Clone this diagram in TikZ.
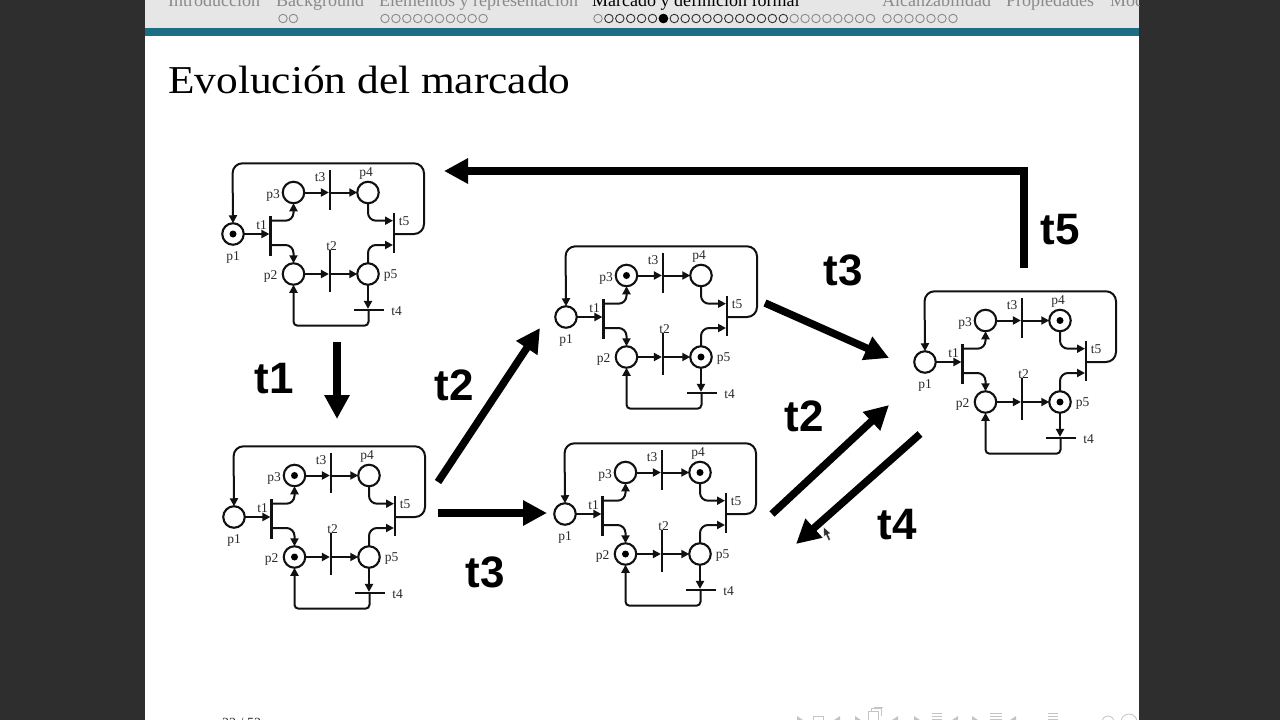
\documentclass[tikz,border=0pt]{standalone}
\usepackage{fontspec}
\setmainfont{Liberation Serif}
\newfontfamily\bigsans{Liberation Sans}[BoldFont={Liberation Sans Bold}]
\usetikzlibrary{arrows.meta,calc}
\definecolor{sidebar}{HTML}{2E2E2E}
\definecolor{headgrey}{HTML}{E6E6E6}
\definecolor{teal2}{HTML}{1D6E85}
\definecolor{navtext}{HTML}{8A8A8A}
\definecolor{navdark}{HTML}{303030}
\definecolor{navsym}{HTML}{C4C4C4}
\definecolor{netink}{HTML}{111111}
\definecolor{lblink}{HTML}{2A2A2A}
\tikzset{
  place/.style={circle,draw=netink,line width=2.1pt,fill=white,minimum size=21.5pt,inner sep=0pt,outer sep=0pt},
  token/.style={circle,fill=black,minimum size=7pt,inner sep=0pt,outer sep=0pt},
  vbar/.style={rectangle,fill=netink,minimum width=2.2pt,inner sep=0pt,outer sep=0pt},
  hbar/.style={rectangle,fill=netink,minimum height=2.2pt,inner sep=0pt,outer sep=0pt},
  pn/.style={draw=netink,line width=2pt,-{Triangle[length=8pt,width=8pt]}},
  lbl/.style={text=lblink,font=\fontsize{13.5}{15}\selectfont,inner sep=0pt},
  bigarrow/.style={draw=black,line width=7.5pt,-{Triangle[length=24pt,width=24pt]}},
  biglabel/.style={text=black,font=\bigsans\bfseries\fontsize{44}{46}\selectfont,inner sep=0pt},
  headtxt/.style={anchor=base west,inner sep=0pt,text=navtext,font=\fontsize{18}{20}\selectfont},
  navdot/.style={circle,draw=navtext,line width=.9pt,minimum size=8.5pt,inner sep=0pt},
  navsymb/.style={draw=navsym,line width=.8pt}
}
% #1 prefix, #2 x, #3 y, #4 marked places
\newcommand{\petrinet}[4]{%
\begin{scope}[shift={(#2,#3)}]
  \node[place] (#1p1) at (0,0) {};
  \node[place] (#1p3) at (60.5,-41.5) {};
  \node[place] (#1p2) at (60.5,40) {};
  \node[place] (#1p4) at (135,-41.5) {};
  \node[place] (#1p5) at (135,40) {};
  \node[vbar,minimum height=40pt] (#1t1) at (37.5,2) {};
  \node[vbar,minimum height=40pt] (#1t3) at (97,-44) {};
  \node[vbar,minimum height=42pt] (#1t2) at (97,37) {};
  \node[vbar,minimum height=40pt] (#1t5) at (161,-1) {};
  \node[hbar,minimum width=30pt] (#1t4) at (135.5,76) {};
  \coordinate (#1a) at (37.5,-13.3);
  \coordinate (#1b) at (37.5,11);
  \coordinate (#1c) at (160,-13.3);
  \coordinate (#1d) at (160,11);
  \coordinate (#1e) at (161,0);
  \coordinate (#1f) at (191,0);
  \coordinate (#1g) at (191,-70.7);
  \coordinate (#1h) at (-0.5,-70.7);
  \coordinate (#1i) at (135.5,91.7);
  \coordinate (#1j) at (60.5,91.7);
  \draw[pn] (#1p1.east) -- (#1p1.east -| #1t1.west);
  \draw[pn,rounded corners=8pt] (#1a) -| (#1p3.south);
  \draw[pn,rounded corners=8pt] (#1b) -| (#1p2.north);
  \draw[pn] (#1p3.east) -- (#1p3.east -| #1t3.west);
  \draw[pn] (#1t3.center |- #1p3.east) -- (#1p4.west);
  \draw[pn] (#1p2.east) -- (#1p2.east -| #1t2.west);
  \draw[pn] (#1t2.center |- #1p2.east) -- (#1p5.west);
  \draw[pn,rounded corners=8pt] (#1p4.south) |- (#1c);
  \draw[pn,rounded corners=8pt] (#1p5.north) |- (#1d);
  \draw[pn] (#1p5.south) -- (#1p5.south |- #1t4.north);
  \draw[pn,rounded corners=4pt] (#1t4.center) -- (#1i) -- (#1j) -- (#1p2.south);
  \draw[pn,rounded corners=10pt] (#1e) -- (#1f) -- (#1g) -- (#1h) -- (#1p1.north);
  \node[lbl] (#1lp1) at (0,23.5) {p1};
  \node[lbl] (#1lt1) at (28.7,-9) {t1};
  \node[lbl] (#1lp3) at (40,-39) {p3};
  \node[lbl] (#1lt3) at (87,-56.5) {t3};
  \node[lbl] (#1lp4) at (133,-61) {p4};
  \node[lbl] (#1lt5) at (171,-13) {t5};
  \node[lbl] (#1lp2) at (37.7,42) {p2};
  \node[lbl] (#1lt2) at (98.7,12) {t2};
  \node[lbl] (#1lp5) at (157.7,42) {p5};
  \node[lbl] (#1lt4) at (163.7,77) {t4};
  \foreach \m in {#4} {\node[token] (#1tok\m) at (#1\m) {};}
\end{scope}}
\begin{document}
\begin{tikzpicture}[x=1pt,y=-1pt]
\useasboundingbox (0,0) rectangle (1280,720);
\fill[sidebar] (0,0) rectangle (1280,720);
\fill[white] (145,0) rectangle (1139,720);
\fill[headgrey] (145,0) rectangle (1139,28);
\fill[teal2] (145,28) rectangle (1139,36);
\begin{scope}
  \clip (145,0) rectangle (1139,720);
  \node[headtxt] (h1) at (168,6) {Introducción};
  \node[headtxt] (h2) at (276,6) {Background};
  \node[headtxt] (h3) at (379,6) {Elementos y representación};
  \node[headtxt,text=black] (h4) at (592,6) {Marcado y definición formal};
  \node[headtxt] (h5) at (882,6) {Alcanzabilidad};
  \node[headtxt] (h6) at (1006,6) {Propiedades};
  \node[headtxt] (h7) at (1110,6) {Mod};
  \foreach \i in {0,1} {\node[navdot] (da\i) at ({283+10.4*\i},18.5) {};}
  \foreach \i in {0,...,9} {\node[navdot] (db\i) at ({385+10.9*\i},18.5) {};}
  \foreach \i in {0,...,25} {
    \pgfmathtruncatemacro{\dk}{(\i>0 && \i<18) ? 1 : 0}
    \ifnum\dk=1 \node[navdot,draw=navdark] (dc\i) at ({598+10.9*\i},18.5) {};
    \else \node[navdot] (dc\i) at ({598+10.9*\i},18.5) {};\fi}
  \node[navdot,draw=black,fill=black] (dcur) at (663.4,18.5) {};
  \foreach \i in {0,...,6} {\node[navdot] (dd\i) at ({887+11*\i},18.5) {};}
  \node[anchor=base west,inner sep=0pt,text=navdark,font=\fontsize{14}{16}\selectfont] (pg) at (222,727) {22 / 52};
  % navigation symbols
  \foreach \xx/\s in {800/-1,837/1,858/-1,895/1,917/-1,955/1,975/-1,1013/1}
    \fill[navsym] (\xx-\s*3,720) -- (\xx+\s*3,716) -- (\xx+\s*3,724) -- cycle;
  \draw[navsymb] (813,722) |- (823,716) -- (823,722);
  \draw[navsymb] (868,722) |- (878,711) -- (878,722) (871,711) |- (881,708) -- (881,716) (874,708) |- (883,707);
  \foreach \xx/\w/\yy in {932/10/713,990/12/713,1048/10/713}
    \foreach \dy in {0,3,6}
      \draw[navsymb] (\xx,\yy+\dy) -- ++(\w,0);
  \draw[navsymb] (1090,722) arc[start angle=180,end angle=360,x radius=6,y radius=-6];
  \draw[navsym,line width=.8pt] (1108,722) circle[radius=6];
  \draw[navsym,line width=.8pt] (1129,722) circle[radius=8];
\end{scope}
\node[anchor=base west,inner sep=0pt,font=\fontsize{39.5}{44}\selectfont] (title) at (168,93) {\scalebox{1.098}[1]{Evolución del marcado}};
\petrinet{A}{233}{234}{p1}
\petrinet{B}{234}{517}{p3,p2}
\petrinet{C}{566}{317}{p3,p5}
\petrinet{D}{565}{514}{p4,p2}
\petrinet{E}{925}{362}{p4,p5}
\coordinate (a1s) at (337,342); \coordinate (a1e) at (337,419);
\coordinate (a2s) at (438,482); \coordinate (a2e) at (540,328);
\coordinate (a3s) at (438,513); \coordinate (a3e) at (547,513);
\coordinate (a4s) at (765,303); \coordinate (a4e) at (889,358);
\coordinate (a5s) at (772,514); \coordinate (a5e) at (889,405);
\coordinate (a6s) at (920,434); \coordinate (a6e) at (796,544);
\coordinate (a7s) at (1024,268); \coordinate (a7m) at (1024,171); \coordinate (a7e) at (444,171);
\draw[bigarrow] (a1s) -- (a1e);
\draw[bigarrow] (a2s) -- (a2e);
\draw[bigarrow] (a3s) -- (a3e);
\draw[bigarrow] (a4s) -- (a4e);
\draw[bigarrow] (a5s) -- (a5e);
\draw[bigarrow] (a6s) -- (a6e);
\draw[bigarrow] (a7s) -- (a7m) -- (a7e);
\node[biglabel] (L1) at (274,379) {t1};
\node[biglabel] (L2) at (454,385) {t2};
\node[biglabel] (L3) at (485,572) {t3};
\node[biglabel] (L4) at (843,270) {t3};
\node[biglabel] (L5) at (804,416) {t2};
\node[biglabel] (L6) at (897,525) {t4};
\node[biglabel] (L7) at (1060,230) {t5};
% mouse pointer
\fill[navdark,draw=white,line width=.4pt] (823.5,527) -- (824,537) -- (826,535) -- (828.5,540.5) -- (830.5,539.5) -- (828,534) -- (831,533.5) -- cycle;
\end{tikzpicture}
\end{document}
